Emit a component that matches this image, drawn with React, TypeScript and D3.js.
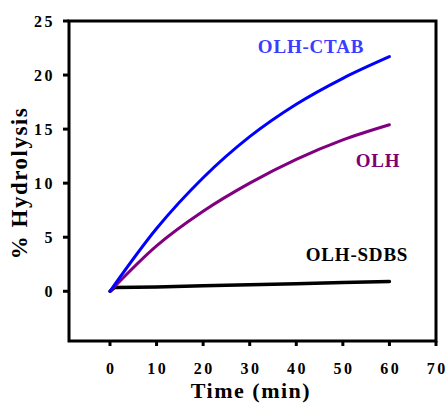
import React, { useEffect, useRef } from "react";
import * as d3 from "d3";

const times = [0, 10, 20, 30, 40, 50, 60];
const ctab = [0, 5.8, 10.5, 14.3, 17.3, 19.7, 21.7];
const olh = [0, 4.2, 7.4, 10.0, 12.2, 14.0, 15.4];
const sdbsTimes = [0, 1, 10, 20, 30, 40, 50, 60];
const sdbs = [0, 0.35, 0.4, 0.5, 0.6, 0.7, 0.8, 0.9];
const xTicks = [0, 10, 20, 30, 40, 50, 60, 70];
const yTicks = [0, 5, 10, 15, 20, 25];

const font = "'Liberation Serif', 'Times New Roman', serif";

function App() {
  const ref = useRef<SVGSVGElement>(null);

  useEffect(() => {
    const svg = d3.select(ref.current);
    svg.selectAll("*").remove();

    const x = d3.scaleLinear().domain([-8.8, 70]).range([69, 436]);
    const y = d3.scaleLinear().domain([-4.6, 25]).range([341, 21]);

    // frame
    svg
      .append("rect")
      .attr("x", x(-8.8))
      .attr("y", y(25))
      .attr("width", x(70) - x(-8.8))
      .attr("height", y(-4.6) - y(25))
      .attr("fill", "none")
      .attr("stroke", "#000")
      .attr("stroke-width", 3);

    // y ticks
    const yAxis = svg.append("g");
    yAxis
      .selectAll("line")
      .data(yTicks)
      .join("line")
      .attr("x1", x(-8.8) - 6)
      .attr("x2", x(-8.8))
      .attr("y1", (d) => y(d))
      .attr("y2", (d) => y(d))
      .attr("stroke", "#000")
      .attr("stroke-width", 3);
    yAxis
      .selectAll("text")
      .data(yTicks)
      .join("text")
      .attr("x", 55)
      .attr("y", (d) => y(d))
      .attr("dy", "0.35em")
      .attr("text-anchor", "end")
      .style("font-family", font)
      .style("font-weight", "bold")
      .style("font-size", "16px")
      .style("letter-spacing", "2.5px")
      .text((d) => d);

    // x ticks
    const xAxis = svg.append("g");
    xAxis
      .selectAll("line")
      .data(xTicks)
      .join("line")
      .attr("x1", (d) => x(d))
      .attr("x2", (d) => x(d))
      .attr("y1", y(-4.6))
      .attr("y2", y(-4.6) + 5)
      .attr("stroke", "#000")
      .attr("stroke-width", 3);
    xAxis
      .selectAll("text")
      .data(xTicks)
      .join("text")
      .attr("x", (d) => x(d) + 1.2)
      .attr("y", 368)
      .attr("dy", "0.35em")
      .attr("text-anchor", "middle")
      .style("font-family", font)
      .style("font-weight", "bold")
      .style("font-size", "16px")
      .style("letter-spacing", "2.5px")
      .text((d) => d);

    svg
      .append("text")
      .attr("x", 251)
      .attr("y", 390)
      .attr("dy", "0.35em")
      .attr("text-anchor", "middle")
      .style("font-family", font)
      .style("font-weight", "bold")
      .style("font-size", "22px")
      .style("letter-spacing", "1.5px")
      .text("Time (min)");

    svg
      .append("text")
      .attr("transform", "translate(19,183) rotate(-90)")
      .attr("dy", "0.35em")
      .attr("text-anchor", "middle")
      .style("font-family", font)
      .style("font-weight", "bold")
      .style("font-size", "23px")
      .style("letter-spacing", "1.5px")
      .text("% Hydrolysis");

    const line = d3
      .line<[number, number]>()
      .x((d) => x(d[0]))
      .y((d) => y(d[1]));

    const series = [
      { t: sdbsTimes, v: sdbs, color: "#000000", curve: d3.curveLinear, w: 3.5 },
      { t: times, v: olh, color: "#800080", curve: d3.curveMonotoneX, w: 3 },
      { t: times, v: ctab, color: "#0000ff", curve: d3.curveMonotoneX, w: 3 },
    ];
    series.forEach((s) => {
      svg
        .append("path")
        .datum(s.t.map((t, i) => [t, s.v[i]] as [number, number]))
        .attr("d", line.curve(s.curve))
        .attr("fill", "none")
        .attr("stroke", s.color)
        .attr("stroke-width", s.w)
        .attr("stroke-linecap", "round");
    });

    const labels = [
      { text: "OLH-CTAB", x: 311, y: 46, color: "#3c3cff" },
      { text: "OLH", x: 378, y: 160, color: "#800070" },
      { text: "OLH-SDBS", x: 357, y: 254, color: "#000000" },
    ];
    svg
      .selectAll(".lbl")
      .data(labels)
      .join("text")
      .attr("class", "lbl")
      .attr("x", (d) => d.x)
      .attr("y", (d) => d.y)
      .attr("dy", "0.35em")
      .attr("text-anchor", "middle")
      .style("font-family", font)
      .style("font-weight", "bold")
      .style("font-size", "19px")
      .style("letter-spacing", "0.8px")
      .style("fill", (d) => d.color)
      .text((d) => d.text);
  }, []);

  return (
    <svg
      ref={ref}
      width={447}
      height={403}
      style={{ position: "absolute", left: 0, top: 0, background: "#fff" }}
    />
  );
}

export default App;
